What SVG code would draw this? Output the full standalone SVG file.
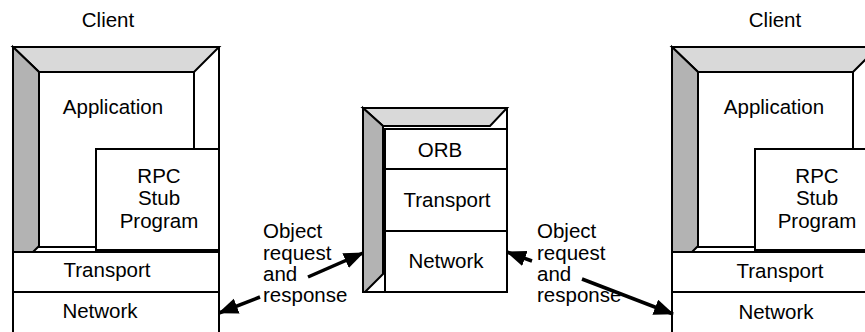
<svg xmlns="http://www.w3.org/2000/svg" width="865" height="332" viewBox="0 0 865 332">
<style>
text{font-family:"Liberation Sans",Arial,sans-serif;font-size:20.5px;fill:#000}
.c{text-anchor:middle}
.ln{fill:none;stroke:#000;stroke-width:2}
.box{fill:#fff;stroke:#000;stroke-width:2}
.lt{fill:#d9d9d9;stroke:#000;stroke-width:2;stroke-linejoin:miter}
.dk{fill:#b3b3b3;stroke:#000;stroke-width:2}
.arr{stroke:#000;stroke-width:3.5;fill:none;marker-end:url(#ah)}
</style>
<defs>
<marker id="ah" markerUnits="userSpaceOnUse" markerWidth="22" markerHeight="18" refX="19" refY="8" orient="auto">
<path d="M0,0 L20,8 L0,16 Z" fill="#000"/>
</marker>
<g id="client">
<rect x="13" y="47" width="206" height="300" class="box"/>
<path d="M13,47 L219,47 L194,72 L39,72 Z" class="lt"/>
<path d="M13,47 L39,72 L39,246 L33,252 L13,252 Z" class="dk"/>
<path d="M39,72 L194,72 L194,149 M39,72 L39,247 L96,247" class="ln"/>
<rect x="96" y="149" width="123" height="101" class="box"/>
<rect x="13" y="252" width="206" height="40" class="box"/>
<rect x="13" y="292" width="206" height="50" class="box"/>
</g>
</defs>
<g id="client-left">
<use href="#client"/>
<text x="108" y="27" class="c">Client</text>
<text x="113" y="114" class="c">Application</text>
<text x="159" y="183" class="c">RPC</text>
<text x="159" y="205" class="c">Stub</text>
<text x="159" y="228" class="c">Program</text>
<text x="107" y="277" class="c">Transport</text>
<text x="100" y="318" class="c">Network</text>
</g>
<g id="client-right">
<use href="#client" x="659"/>
<text x="775" y="27" class="c">Client</text>
<text x="774" y="114" class="c">Application</text>
<text x="817" y="183" class="c">RPC</text>
<text x="817" y="205" class="c">Stub</text>
<text x="817" y="228" class="c">Program</text>
<text x="780" y="278" class="c">Transport</text>
<text x="776" y="319" class="c">Network</text>
</g>
<g id="orb-node">
<rect x="363" y="108" width="144" height="184" class="box"/>
<path d="M363,108 L507,108 L490,126 L383,126 Z" class="lt"/>
<path d="M363,108 L383,126 L383,274 L365,292 L363,292 Z" class="dk"/>
<rect x="385" y="129" width="122" height="40" class="box"/>
<rect x="385" y="169" width="122" height="62" class="box"/>
<rect x="385" y="231" width="122" height="61" class="box"/>
<text x="440" y="157" class="c">ORB</text>
<text x="447" y="207" class="c">Transport</text>
<text x="446" y="268" class="c">Network</text>
</g>
<g id="label-left">
<text x="263" y="238">Object</text>
<text x="263" y="260">request</text>
<text x="263" y="281">and</text>
<text x="263" y="302">response</text>
</g>
<g id="label-right">
<text x="537" y="238">Object</text>
<text x="537" y="260">request</text>
<text x="537" y="281">and</text>
<text x="537" y="302">response</text>
</g>
<g id="connectors">
<line x1="308" y1="277" x2="363" y2="253" class="arr"/>
<line x1="260" y1="297" x2="219" y2="313" class="arr"/>
<line x1="532" y1="261" x2="507" y2="252" class="arr"/>
<line x1="582" y1="279" x2="673" y2="314" class="arr"/>
</g>
</svg>
